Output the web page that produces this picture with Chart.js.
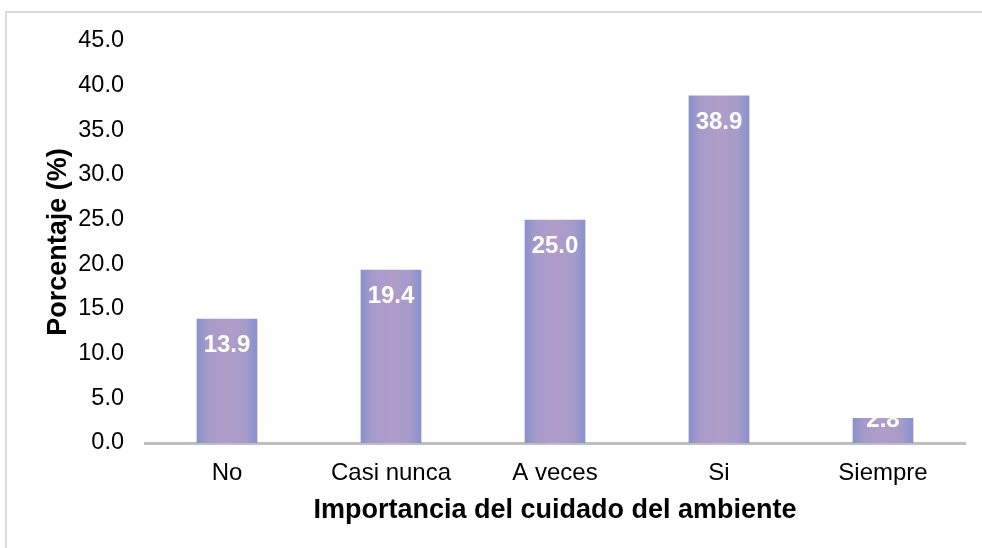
<!DOCTYPE html>
<html>
<head>
<meta charset="utf-8">
<script src="https://cdn.jsdelivr.net/npm/chart.js@4.4.0/dist/chart.umd.min.js"></script>
<style>
  html, body { margin: 0; padding: 0; background: #ffffff; }
  #wrap { width: 982px; height: 548px; position: relative; }
</style>
</head>
<body>
<div id="wrap"><canvas id="c" width="982" height="548"></canvas></div>
<script>
// Survey answers: importance of caring for the environment
const categories = ['No', 'Casi nunca', 'A veces', 'Si', 'Siempre'];
const percentages = [13.9, 19.4, 25.0, 38.9, 2.8];
const yTicks = [0, 5, 10, 15, 20, 25, 30, 35, 40, 45];

const FONT = '"Liberation Sans", Arial, sans-serif';
const BAR_RATIO = 0.37;

// Horizontal gradient on each bar: blue edges, lilac centre
function barFill(ctx) {
  const chart = ctx.chart;
  if (!chart.chartArea || !chart.scales.x) return '#a69ac9';
  const xs = chart.scales.x;
  const cx = xs.getPixelForValue(ctx.dataIndex);
  const w = (chart.chartArea.width / categories.length) * BAR_RATIO;
  const g = chart.ctx.createLinearGradient(cx - w / 2, 0, cx + w / 2, 0);
  g.addColorStop(0, '#8791cc');
  g.addColorStop(0.18, '#a59bcb');
  g.addColorStop(0.5, '#b29cc8');
  g.addColorStop(0.82, '#a59bcb');
  g.addColorStop(1, '#8791cc');
  return g;
}

// Light frame along the top and left edges
const framePlugin = {
  id: 'frame',
  beforeDraw(chart) {
    const c = chart.ctx;
    c.save();
    c.strokeStyle = '#d9d9d9';
    c.lineWidth = 2;
    c.beginPath();
    c.moveTo(6, 560);
    c.lineTo(6, 12);
    c.lineTo(990, 12);
    c.stroke();
    c.restore();
  }
};

// White value labels inside the top of each bar
const valueLabels = {
  id: 'valueLabels',
  afterDatasetsDraw(chart) {
    const c = chart.ctx;
    const meta = chart.getDatasetMeta(0);
    const base = chart.scales.y.getPixelForValue(0);
    c.save();
    c.fillStyle = '#ffffff';
    c.font = 'bold 24px ' + FONT;
    c.textAlign = 'center';
    c.textBaseline = 'middle';
    meta.data.forEach((bar, i) => {
      const y = Math.min(bar.y + 27, base - 23);
      c.fillText(percentages[i].toFixed(1), bar.x, y);
    });
    c.restore();
  }
};

new Chart(document.getElementById('c'), {
  type: 'bar',
  data: {
    labels: categories,
    datasets: [{
      data: percentages,
      backgroundColor: barFill,
      borderWidth: 0,
      categoryPercentage: 1,
      barPercentage: BAR_RATIO
    }]
  },
  options: {
    responsive: false,
    animation: false,
    events: [],
    layout: { padding: { top: 41, right: 17, left: 0, bottom: 0 } },
    plugins: {
      legend: { display: false },
      tooltip: { enabled: false }
    },
    scales: {
      x: {
        grid: { display: false, drawTicks: false },
        border: { display: true, color: '#bfbfbf', width: 3 },
        ticks: { color: '#000000', font: { family: FONT, size: 24 }, padding: 16 },
        title: {
          display: true,
          text: 'Importancia del cuidado del ambiente',
          color: '#000000',
          font: { family: FONT, size: 27, weight: 'bold' },
          padding: { top: 0, bottom: 21 }
        },
        afterFit(s) { s.height = 105; }
      },
      y: {
        min: 0,
        max: 45,
        afterBuildTicks(s) { s.ticks = yTicks.map(v => ({ value: v })); },
        grid: { display: false, drawTicks: false },
        border: { display: false },
        ticks: {
          color: '#000000',
          font: { family: FONT, size: 23.5 },
          padding: 21,
          callback: v => Number(v).toFixed(1)
        },
        title: {
          display: true,
          text: 'Porcentaje (%)',
          color: '#000000',
          font: { family: FONT, size: 27, weight: 'bold' },
          padding: { top: 42, bottom: 0 }
        },
        afterFit(s) { s.width = 145; }
      }
    }
  },
  plugins: [framePlugin, valueLabels]
});
</script>
</body>
</html>
